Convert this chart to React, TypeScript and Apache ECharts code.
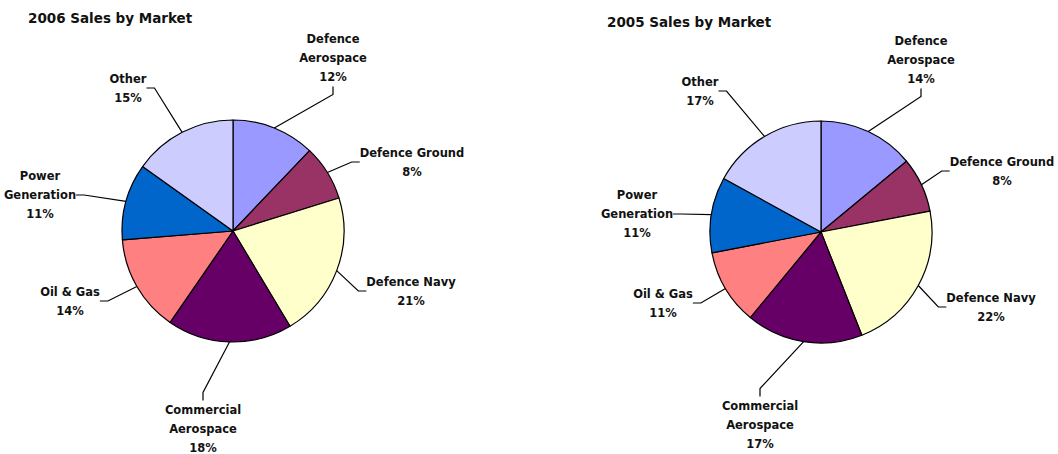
import React, { useEffect, useRef } from "react";
import * as echarts from "echarts";

const categories = [
  "Defence Aerospace",
  "Defence Ground",
  "Defence Navy",
  "Commercial Aerospace",
  "Oil & Gas",
  "Power Generation",
  "Other",
];
const sales2006 = [12, 8, 21, 18, 14, 11, 15];
const sales2005 = [14, 8, 22, 17, 11, 11, 17];
const titles = ["2006 Sales by Market", "2005 Sales by Market"];

const colors = ["#9999FF", "#993366", "#FFFFCC", "#660066", "#FF8080", "#0066CC", "#CCCCFF"];
const wrapped: Record<string, string> = {
  "Defence Aerospace": "Defence\nAerospace",
  "Commercial Aerospace": "Commercial\nAerospace",
  "Power Generation": "Power\nGeneration",
};
// label centres per series (layout only)
const labelPos = [
  [[333, 58], [412, 162], [411, 291], [203, 429], [70, 301], [40, 195], [128, 88]],
  [[921, 60], [1002, 171], [991, 307], [760, 425], [663, 303], [637, 214], [700, 91]],
];

const FONT = "'DejaVu Sans', Verdana, sans-serif";

export default function App() {
  const ref = useRef<HTMLDivElement>(null);
  useEffect(() => {
    if (!ref.current) return;
    const chart = echarts.init(ref.current, undefined, { renderer: "svg" });
    const makeSeries = (values: number[], center: number[], si: number) => ({
      type: "pie",
      center,
      radius: 111,
      startAngle: 90,
      clockwise: true,
      data: categories.map((c, i) => ({ name: c, value: values[i], itemStyle: { color: colors[i] } })),
      itemStyle: { borderColor: "#000", borderWidth: 1.2 },
      label: {
        show: true,
        position: "outside",
        alignTo: "none",
        overflow: "none",
        formatter: (p: any) => `${wrapped[p.name] || p.name}\n${p.value}%`,
        color: "#111",
        fontFamily: FONT,
        fontWeight: "bold",
        fontSize: 11.5,
        lineHeight: 19,
        align: "center",
      },
      labelLine: { show: true, length: 20, length2: 8, lineStyle: { color: "#000", width: 1.2 } },
      labelLayout: (params: any) => {
        const p = labelPos[si][params.dataIndex];
        return { x: p[0], y: p[1], align: "center", verticalAlign: "middle" };
      },
      emphasis: { disabled: true },
    });
    chart.setOption({
      animation: false,
      backgroundColor: "#fff",
      title: titles.map((t, i) => ({
        text: t,
        left: i === 0 ? 23 : 602,
        top: i === 0 ? 6 : 10,
        textStyle: { fontFamily: FONT, fontWeight: "bold", fontSize: 13.5, color: "#111" },
      })),
      series: [makeSeries(sales2006, [233, 231], 0), makeSeries(sales2005, [821, 232], 1)],
    });
    return () => chart.dispose();
  }, []);
  return (
    <div
      ref={ref}
      style={{ position: "fixed", left: 0, top: 0, width: 1058, height: 454, background: "#fff" }}
    />
  );
}
